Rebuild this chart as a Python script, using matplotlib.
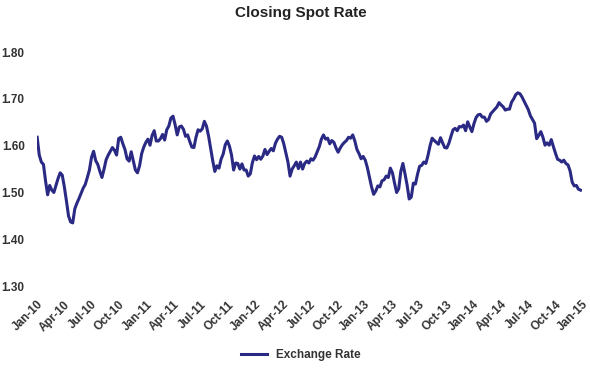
import numpy as np
import pandas as pd
import matplotlib
matplotlib.use("Agg")
import matplotlib.pyplot as plt
import matplotlib.dates as mdates

plt.rcParams['font.family'] = ['Liberation Sans', 'DejaVu Sans']

# weekly closing spot rate
start = "2010-01-01"
rate = [
    1.618, 1.580, 1.565, 1.560, 1.525, 1.495, 1.515, 1.505, 1.500, 1.515,
    1.530, 1.542, 1.537, 1.512, 1.482, 1.450, 1.437, 1.435, 1.465, 1.477,
    1.487, 1.498, 1.509, 1.517, 1.532, 1.548, 1.575, 1.588, 1.568, 1.560,
    1.545, 1.532, 1.550, 1.570, 1.580, 1.588, 1.596, 1.590, 1.580, 1.615,
    1.618, 1.604, 1.592, 1.572, 1.567, 1.587, 1.568, 1.548, 1.542, 1.557,
    1.583, 1.597, 1.607, 1.614, 1.601, 1.622, 1.632, 1.610, 1.610, 1.615,
    1.624, 1.612, 1.634, 1.642, 1.659, 1.663, 1.645, 1.623, 1.640, 1.642,
    1.635, 1.620, 1.623, 1.609, 1.597, 1.596, 1.618, 1.634, 1.631, 1.636,
    1.652, 1.642, 1.621, 1.595, 1.568, 1.545, 1.557, 1.552, 1.571, 1.582,
    1.602, 1.610, 1.599, 1.580, 1.548, 1.563, 1.562, 1.550, 1.561, 1.548,
    1.548, 1.535, 1.540, 1.564, 1.578, 1.570, 1.577, 1.571, 1.578, 1.592,
    1.581, 1.588, 1.594, 1.589, 1.605, 1.614, 1.620, 1.618, 1.604, 1.584,
    1.565, 1.535, 1.550, 1.557, 1.565, 1.551, 1.565, 1.550, 1.562, 1.567,
    1.563, 1.572, 1.569, 1.576, 1.587, 1.598, 1.614, 1.623, 1.614, 1.616,
    1.604, 1.611, 1.607, 1.595, 1.586, 1.595, 1.602, 1.607, 1.611, 1.618,
    1.616, 1.623, 1.610, 1.592, 1.583, 1.572, 1.577, 1.569, 1.553, 1.533,
    1.512, 1.496, 1.503, 1.514, 1.512, 1.525, 1.527, 1.535, 1.532, 1.552,
    1.542, 1.520, 1.500, 1.508, 1.545, 1.562, 1.540, 1.516, 1.486, 1.490,
    1.520, 1.518, 1.539, 1.556, 1.558, 1.565, 1.562, 1.579, 1.600, 1.616,
    1.611, 1.607, 1.603, 1.617, 1.606, 1.596, 1.595, 1.605, 1.620, 1.634,
    1.637, 1.632, 1.641, 1.640, 1.644, 1.632, 1.651, 1.640, 1.630, 1.647,
    1.660, 1.666, 1.667, 1.661, 1.661, 1.652, 1.656, 1.668, 1.673, 1.678,
    1.683, 1.692, 1.687, 1.683, 1.676, 1.678, 1.678, 1.693, 1.700, 1.709,
    1.713, 1.711, 1.704, 1.695, 1.686, 1.677, 1.664, 1.656, 1.648, 1.615,
    1.622, 1.630, 1.618, 1.601, 1.606, 1.601, 1.613, 1.598, 1.584, 1.571,
    1.569, 1.565, 1.569, 1.562, 1.559, 1.546, 1.522, 1.514, 1.515, 1.507,
    1.505,
]
dates = pd.date_range(start, periods=len(rate), freq="7D")

yticks = [1.30, 1.40, 1.50, 1.60, 1.70, 1.80]
xticks = pd.date_range("2010-01-01", "2015-01-01", freq="QS")

fig = plt.figure(figsize=(5.9, 3.72), dpi=100)
ax = fig.add_axes([0.063, 0.231, 0.924, 0.629])

ax.plot(dates, rate, color="#2a2a85", lw=2.2, label="Exchange Rate")

ax.set_xlim(pd.Timestamp("2010-01-01"), pd.Timestamp("2015-01-01"))
ax.set_ylim(1.30, 1.80)
ax.set_yticks(yticks)
ax.set_yticklabels([f"{v:.2f}" for v in yticks])
ax.set_xticks(xticks)
ax.xaxis.set_major_formatter(mdates.DateFormatter("%b-%y"))
for s in ax.spines.values():
    s.set_visible(False)
ax.tick_params(axis="both", length=0, labelsize=8.5, colors="#333333")
ax.tick_params(axis="y", pad=9)
ax.tick_params(axis="x", pad=9)
for lab in ax.get_xticklabels():
    lab.set_rotation(45)
    lab.set_ha("right")
    lab.set_rotation_mode("anchor")
    lab.set_fontweight("bold")
for lab in ax.get_yticklabels():
    lab.set_fontweight("bold")

fig.text(0.51, 0.965, "Closing Spot Rate", ha="center", va="center",
         fontsize=11, fontweight="bold", color="#222222")

fig.legend(loc="center", bbox_to_anchor=(0.51, 0.045), frameon=False,
           prop={"size": 8.5, "weight": "bold"}, handlelength=2.2,
           labelcolor="#333333")

fig.savefig("out.png", dpi=100)
